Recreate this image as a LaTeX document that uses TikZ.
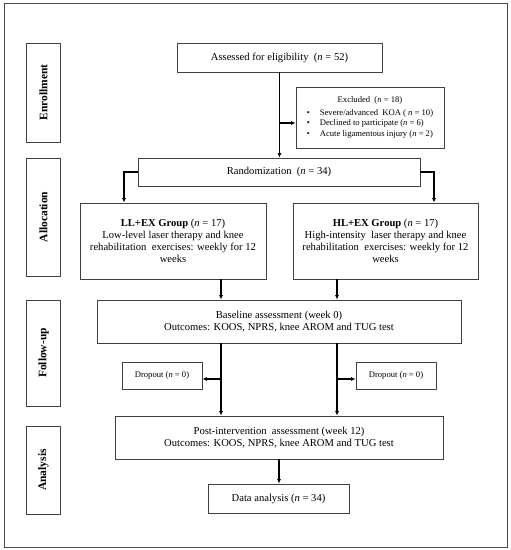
\documentclass[tikz,border=0pt]{standalone}
\usepackage{fontspec}
\setmainfont{Liberation Serif}
\usetikzlibrary{arrows.meta}

\tikzset{
	box/.style={draw=black!75, line width=0.8pt, inner sep=2pt, align=center, font=\fontsize{10.6}{12}\selectfont},
	smallbox/.style={box, font=\fontsize{8.6}{10.5}\selectfont},
	phase/.style={draw=black!75, line width=0.8pt, inner sep=0pt, minimum height=34pt, rotate=90, font=\bfseries\fontsize{11.5}{13}\selectfont},
	flow/.style={line width=1.2pt, -{Latex[length=4.5pt,width=4pt]}}
}

\begin{document}
\begin{tikzpicture}[x=1pt, y=-1pt]
	%%%%% START %%%%%
	\useasboundingbox (0,0) rectangle (511,550);
	\draw[black!70, line width=0.8pt] (4,3) rectangle (507,547);
	
	% phases on the left
	\node[phase, minimum width=99pt] (enroll) at (43.5, 92.5) {Enrollment};
	\node[phase, minimum width=118pt] (alloc) at (43.5, 217) {Allocation};
	\node[phase, minimum width=106pt] (follow) at (43.5, 353) {Follow-up};
	\node[phase, minimum width=88pt] (analysis) at (43.5, 470) {Analysis};
	
	% boxes
	\node[box, minimum width=205pt, minimum height=29pt] (assess) at (279.5, 57.5) {Assessed for eligibility\ \ (\textit{n} = 52)};
	\node[smallbox, minimum width=148pt, minimum height=61pt] (excl) at (370, 117.5) {%
		\begin{tabular}{@{}c@{\hspace{10pt}}l@{}}
			\multicolumn{2}{c}{Excluded\ \ (\textit{n} = 18)}\\[2pt]
			\textbullet & Severe/advanced\ \ KOA ( \textit{n} = 10)\\[0pt]
			\textbullet & Declined to participate (\textit{n} = 6)\\[0pt]
			\textbullet & Acute ligamentous injury (\textit{n} = 2)
		\end{tabular}};
	\node[box, minimum width=282pt, minimum height=28pt] (rand) at (279, 172) {Randomization\ \ (\textit{n} = 34)};
	\node[box, minimum width=186pt, minimum height=76pt] (ll) at (173, 241) {\textbf{LL+EX Group} (\textit{n} = 17)\\Low-level laser therapy and knee\\rehabilitation\ \ exercises: weekly for 12\\weeks};
	\node[box, minimum width=185pt, minimum height=76pt] (hl) at (385.5, 241) {\textbf{HL+EX Group} (\textit{n} = 17)\\High-intensity\ \ laser therapy and knee\\rehabilitation\ \ exercises: weekly for 12\\weeks};
	\node[box, minimum width=364pt, minimum height=43pt] (base) at (279, 321.5) {Baseline assessment (week 0)\\Outcomes: KOOS, NPRS, knee AROM and TUG test};
	\node[smallbox, minimum width=80pt, minimum height=27pt] (dropl) at (162, 375.5) {Dropout (\textit{n} = 0)};
	\node[smallbox, minimum width=80pt, minimum height=27pt] (dropr) at (396, 375.5) {Dropout (\textit{n} = 0)};
	\node[box, minimum width=328pt, minimum height=43pt] (post) at (279, 437.5) {Post-intervention\ \ assessment (week 12)\\Outcomes: KOOS, NPRS, knee AROM and TUG test};
	\node[box, minimum width=141pt, minimum height=29pt] (data) at (278.5, 498.5) {Data analysis (\textit{n} = 34)};
	
	% arrows
	\draw[flow] (assess.south) -- (assess.south |- rand.north);
	\coordinate (split) at (279.5, 123);
	\draw[flow] (split) -- (split -| excl.west);
	\draw[flow] (rand.west) -| ([xshift=-49pt]ll.north);
	\draw[flow] (rand.east) -| ([xshift=48.5pt]hl.north);
	\draw[flow] ([xshift=48pt]ll.south) -- ([xshift=48pt]ll.south |- base.north);
	\draw[flow] ([xshift=-48.5pt]hl.south) -- ([xshift=-48.5pt]hl.south |- base.north);
	\draw[flow] ([xshift=-58pt]base.south) -- ([xshift=-58pt]post.north);
	\draw[flow] ([xshift=58pt]base.south) -- ([xshift=58pt]post.north);
	\draw[flow] ([xshift=-58pt]base.south |- dropl.east) ++(0,3.5) -- ([yshift=-3.5pt]dropl.east);
	\draw[flow] ([xshift=58pt]base.south |- dropr.west) ++(0,3.5) -- ([yshift=-3.5pt]dropr.west);
	\draw[flow] (post.south) -- (post.south |- data.north);
	
	%%%%% END %%%%%
\end{tikzpicture}
\end{document}
